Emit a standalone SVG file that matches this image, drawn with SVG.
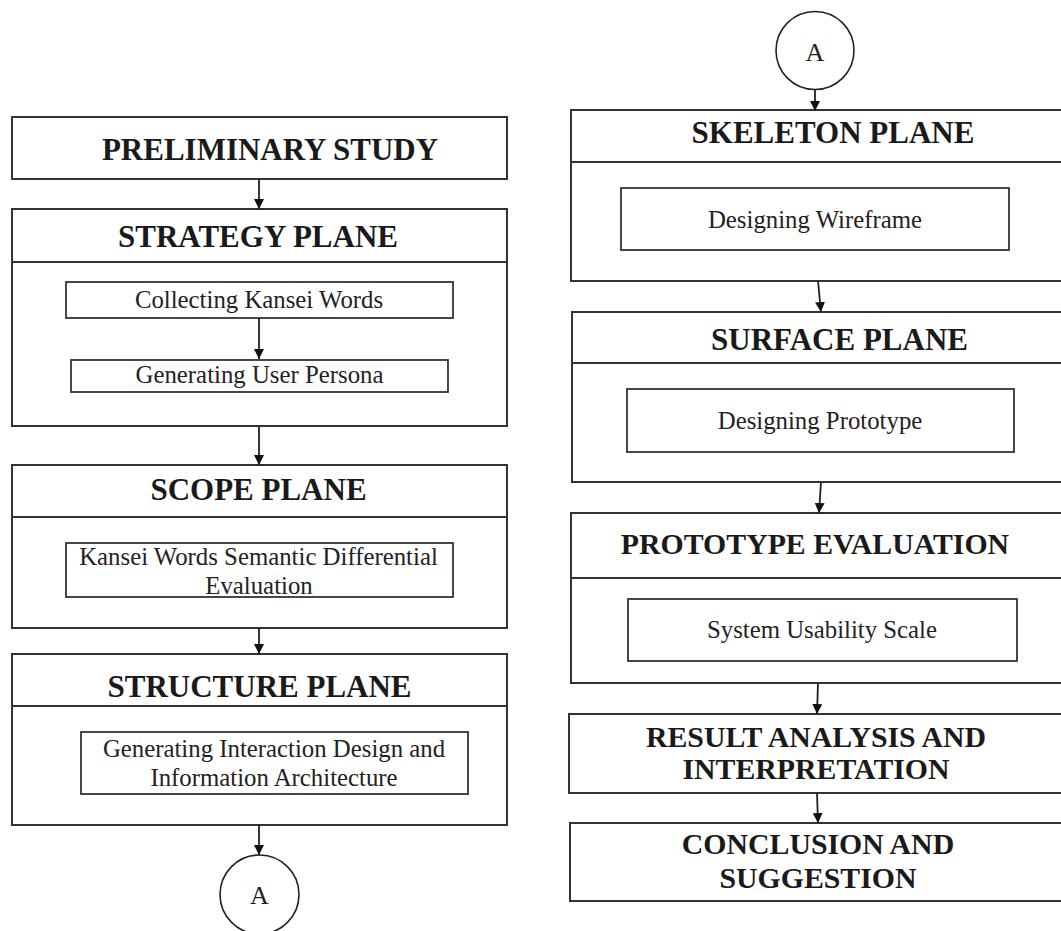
<svg xmlns="http://www.w3.org/2000/svg" width="1061" height="931" viewBox="0 0 1061 931">
<style>
  .box { fill: #fff; stroke: #333; stroke-width: 2; }
  .sub { fill: #fff; stroke: #333; stroke-width: 1.8; }
  .div { stroke: #333; stroke-width: 2; }
  .hd { font-family: "Liberation Serif", "Times New Roman", serif; font-weight: bold; font-size: 31px; fill: #1a1a1a; text-anchor: middle; }
  .hd2 { font-family: "Liberation Serif", "Times New Roman", serif; font-weight: bold; font-size: 29.8px; fill: #1a1a1a; text-anchor: middle; }
  .tx { font-family: "Liberation Serif", "Times New Roman", serif; font-size: 24.8px; fill: #222; text-anchor: middle; }
  .ca { font-family: "Liberation Serif", "Times New Roman", serif; font-size: 26px; fill: #222; text-anchor: middle; }
  .con { stroke: #222; stroke-width: 1.8; fill: none; marker-end: url(#arr); }
  .circ { fill: #fff; stroke: #222; stroke-width: 1.6; }
</style>
<defs>
  <marker id="arr" viewBox="0 0 10 10" refX="10" refY="5" markerWidth="10" markerHeight="10" markerUnits="userSpaceOnUse" orient="auto">
    <path d="M0,0 L10,5 L0,10 Z" fill="#111"/>
  </marker>
</defs>
<rect width="1061" height="931" fill="#fff"/>

<g id="preliminary">
  <rect class="box" x="12" y="117" width="495" height="62"/>
  <text class="hd" x="270" y="160">PRELIMINARY STUDY</text>
</g>

<g id="strategy">
  <rect class="box" x="12" y="209" width="495" height="217"/>
  <line class="div" x1="12" y1="262" x2="507" y2="262"/>
  <text class="hd" x="258" y="247">STRATEGY PLANE</text>
</g>
<g id="collecting">
  <rect class="sub" x="66" y="282" width="387" height="36"/>
  <text class="tx" x="259" y="308">Collecting Kansei Words</text>
</g>
<g id="persona">
  <rect class="sub" x="71" y="360" width="377" height="32"/>
  <text class="tx" x="259.5" y="383">Generating User Persona</text>
</g>

<g id="scope">
  <rect class="box" x="12" y="465" width="495" height="163"/>
  <line class="div" x1="12" y1="517" x2="507" y2="517"/>
  <text class="hd" x="258.5" y="500">SCOPE PLANE</text>
</g>
<g id="kansei-sd">
  <rect class="sub" x="66" y="543" width="387" height="54"/>
  <text class="tx" x="258.5" y="565">Kansei Words Semantic Differential</text>
  <text class="tx" x="259" y="594">Evaluation</text>
</g>

<g id="structure">
  <rect class="box" x="12" y="654" width="495" height="171"/>
  <line class="div" x1="12" y1="706" x2="507" y2="706"/>
  <text class="hd" x="259.5" y="697">STRUCTURE PLANE</text>
</g>
<g id="interaction">
  <rect class="sub" x="81" y="732" width="387" height="62"/>
  <text class="tx" x="274" y="757">Generating Interaction Design and</text>
  <text class="tx" x="274" y="786">Information Architecture</text>
</g>

<g id="connector-a-bottom">
  <circle class="circ" cx="259.5" cy="894.5" r="39.5"/>
  <text class="ca" x="259.5" y="904">A</text>
</g>

<g id="connector-a-top">
  <circle class="circ" cx="815" cy="50.5" r="39"/>
  <text class="ca" x="815" y="61">A</text>
</g>

<g id="skeleton">
  <rect class="box" x="571" y="110" width="510" height="171"/>
  <line class="div" x1="571" y1="162" x2="1081" y2="162"/>
  <text class="hd" x="833" y="143">SKELETON PLANE</text>
</g>
<g id="wireframe">
  <rect class="sub" x="621" y="188" width="388" height="62"/>
  <text class="tx" x="815" y="228">Designing Wireframe</text>
</g>

<g id="surface">
  <rect class="box" x="572" y="312" width="510" height="170"/>
  <line class="div" x1="572" y1="363" x2="1082" y2="363"/>
  <text class="hd" x="839.5" y="350">SURFACE PLANE</text>
</g>
<g id="prototype">
  <rect class="sub" x="627" y="389" width="387" height="63"/>
  <text class="tx" x="820" y="429">Designing Prototype</text>
</g>

<g id="evaluation">
  <rect class="box" x="571" y="513" width="510" height="170"/>
  <line class="div" x1="571" y1="578" x2="1081" y2="578"/>
  <text class="hd2" x="815" y="554">PROTOTYPE EVALUATION</text>
</g>
<g id="sus">
  <rect class="sub" x="628" y="599" width="389" height="62"/>
  <text class="tx" x="822" y="638">System Usability Scale</text>
</g>

<g id="result">
  <rect class="box" x="569" y="714" width="512" height="79"/>
  <text class="hd2" x="816" y="747">RESULT ANALYSIS AND</text>
  <text class="hd2" x="816" y="779">INTERPRETATION</text>
</g>

<g id="conclusion">
  <rect class="box" x="570" y="823" width="511" height="78"/>
  <text class="hd2" x="818" y="854">CONCLUSION AND</text>
  <text class="hd2" x="818" y="888">SUGGESTION</text>
</g>

<g id="connectors">
  <line class="con" x1="259" y1="179" x2="259" y2="209"/>
  <line class="con" x1="259" y1="318" x2="259" y2="359"/>
  <line class="con" x1="259" y1="426" x2="259" y2="465"/>
  <line class="con" x1="259" y1="628" x2="259" y2="654"/>
  <line class="con" x1="259" y1="825" x2="259" y2="855"/>
  <line class="con" x1="815" y1="89.5" x2="815" y2="111"/>
  <line class="con" x1="818" y1="281" x2="821" y2="312"/>
  <line class="con" x1="821" y1="482" x2="819" y2="513"/>
  <line class="con" x1="818" y1="683" x2="817" y2="714"/>
  <line class="con" x1="817" y1="793" x2="818" y2="823"/>
</g>
</svg>
